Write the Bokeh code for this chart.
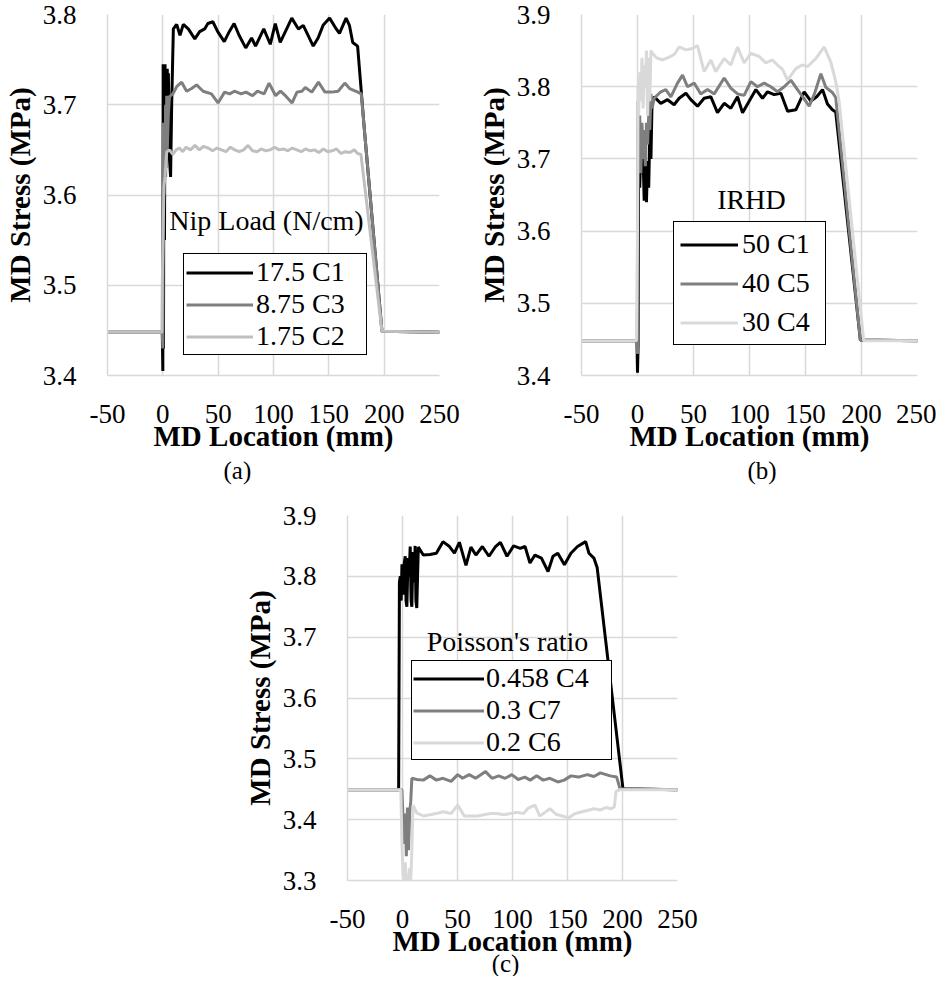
from bokeh.plotting import figure
from bokeh.models import (Range1d, FixedTicker, PrintfTickFormatter, Legend,
                          LegendItem, Label, Spacer, Title)
from bokeh.layouts import column, row
from bokeh.embed import file_html
from bokeh.resources import INLINE

FONT = "Liberation Serif"
X_TICKS = [-50, 0, 50, 100, 150, 200, 250]

# ---------------- panel (a): Nip Load (N/cm) ----------------
a_c1_x = [-50, -0.5, 0, 0.3, 0.6, 1.0, 1.5, 2.0, 2.5, 3.0, 3.5, 4.0, 4.5, 5.0, 6.0, 7.0, 8.0, 9.5, 12.5, 15.5,
          18.5, 23, 28.9, 33.3, 37.8, 40.7, 45.2, 49.6, 55.5, 60, 64.4, 68.9, 74.9, 80.2, 83.8, 91.2, 97.1,
          101.6, 106.1, 116.5, 122.5, 126.9, 135.9, 140.3, 144.8, 150.7, 156.7, 159.6, 165.6, 168.6, 171.6,
          176, 182, 198, 250]
a_c1_y = [3.448, 3.448, 3.405, 3.745, 3.43, 3.74, 3.55, 3.745, 3.62, 3.74, 3.66, 3.74, 3.68, 3.735, 3.64, 3.62,
          3.70, 3.784, 3.789, 3.777, 3.789, 3.784, 3.773, 3.781, 3.784, 3.790, 3.792, 3.781, 3.770, 3.781,
          3.790, 3.777, 3.763, 3.774, 3.765, 3.784, 3.767, 3.790, 3.769, 3.796, 3.784, 3.788, 3.765, 3.774,
          3.788, 3.796, 3.784, 3.779, 3.796, 3.788, 3.769, 3.765, 3.674, 3.449, 3.448]
a_c3_x = [-50, -0.5, 0, 0.5, 1.0, 1.5, 2.0, 2.5, 3.0, 3.5, 4.0, 5.0, 6.0, 9.0, 12.5, 17, 21.5, 26, 30.5, 36.4,
          43.9, 49.9, 55.8, 60.3, 64.7, 70.7, 75.1, 81.1, 85.5, 91.5, 96, 101.9, 106.3, 110.8, 116.8, 121.2,
          125.7, 128.7, 134.6, 140.6, 146.5, 152.5, 158.4, 164.4, 168.8, 172.5, 176.3, 179.3, 198, 250]
a_c3_y = [3.448, 3.448, 3.43, 3.68, 3.60, 3.68, 3.62, 3.70, 3.63, 3.71, 3.65, 3.69, 3.709, 3.712, 3.720, 3.725,
          3.715, 3.718, 3.722, 3.715, 3.712, 3.702, 3.714, 3.712, 3.715, 3.712, 3.714, 3.710, 3.715, 3.712,
          3.724, 3.710, 3.715, 3.710, 3.702, 3.714, 3.715, 3.719, 3.714, 3.725, 3.714, 3.714, 3.715, 3.724,
          3.718, 3.716, 3.714, 3.712, 3.449, 3.448]
a_c2_x = [-50, -0.8, -0.5, 1.0, 2.0, 3.0, 3.6, 6, 9, 12, 15, 18, 21, 25, 29, 33, 37, 41, 45, 49, 53, 57, 61, 65,
          69, 73, 77, 81, 85, 89, 93, 97, 101, 105, 109, 113, 117, 121, 125, 129, 133, 137, 141, 145, 149, 153,
          157, 161, 165, 169, 173, 176, 179, 198, 250]
a_c2_y = [3.448, 3.448, 3.50, 3.61, 3.62, 3.64, 3.648, 3.650, 3.645, 3.650, 3.652, 3.648, 3.653, 3.650, 3.655,
          3.650, 3.654, 3.652, 3.649, 3.652, 3.650, 3.648, 3.653, 3.650, 3.648, 3.650, 3.655, 3.649, 3.648,
          3.651, 3.649, 3.650, 3.653, 3.650, 3.651, 3.649, 3.652, 3.650, 3.648, 3.651, 3.649, 3.650, 3.647,
          3.651, 3.648, 3.649, 3.651, 3.646, 3.648, 3.647, 3.650, 3.646, 3.645, 3.449, 3.448]

# ---------------- panel (b): IRHD ----------------
b_c1_x = [-50, -0.5, 0, 0.5, 1.0, 2.0, 3.0, 4.0, 5.0, 6.0, 7.0, 8.0, 9.0, 10.0, 11.0, 12.0, 13.0, 14.9, 20.8,
          26.8, 32.7, 37.2, 43.2, 47.6, 53.6, 59.5, 65.5, 71.4, 77.4, 83.3, 89.3, 93.8, 101.2, 105.7, 111.6,
          116.1, 122, 128, 134, 141.4, 148.8, 154.8, 160, 165.2, 169.6, 174, 177, 199, 250]
b_c1_y = [3.448, 3.448, 3.404, 3.44, 3.70, 3.66, 3.72, 3.68, 3.70, 3.642, 3.70, 3.64, 3.697, 3.66, 3.74, 3.70,
          3.78, 3.786, 3.777, 3.782, 3.775, 3.784, 3.791, 3.782, 3.773, 3.784, 3.786, 3.764, 3.777, 3.770,
          3.786, 3.764, 3.784, 3.796, 3.784, 3.793, 3.789, 3.791, 3.766, 3.768, 3.793, 3.780, 3.786, 3.796,
          3.776, 3.768, 3.765, 3.449, 3.448]
b_c5_x = [-50, -0.5, 0, 0.5, 1.0, 2.0, 3.0, 4.0, 5.0, 6.0, 7.0, 8.0, 9.0, 10, 11, 12, 13, 14.9, 20.8, 25.3,
          29.8, 35.7, 40.2, 44.6, 50.6, 56.5, 62.5, 68.5, 77.4, 83.3, 89.3, 95.2, 101.2, 107.1, 113.1, 119,
          125, 131, 136.9, 144.3, 148, 153.3, 158, 163.7, 168.2, 174, 177, 199, 250]
b_c5_y = [3.448, 3.448, 3.43, 3.78, 3.70, 3.76, 3.68, 3.75, 3.70, 3.74, 3.69, 3.75, 3.72, 3.76, 3.74, 3.79,
          3.77, 3.784, 3.793, 3.796, 3.786, 3.805, 3.816, 3.800, 3.805, 3.790, 3.796, 3.790, 3.812, 3.798,
          3.790, 3.788, 3.807, 3.800, 3.805, 3.800, 3.793, 3.800, 3.809, 3.793, 3.785, 3.773, 3.790, 3.818,
          3.799, 3.792, 3.785, 3.449, 3.448]
b_c4_x = [-50, -1, 0, 0.5, 1, 2, 3, 4, 5, 6, 7, 8, 9, 10, 11, 12, 13.4, 17, 22.3, 28.3, 33, 37.2, 43.2, 49.1,
          53.6, 59.5, 65.5, 69.9, 77.4, 83.3, 89.3, 95.2, 101.2, 108.6, 114.6, 120.5, 125, 129.5, 134, 141.4,
          147, 152, 159.2, 166.7, 172.6, 177, 180, 202, 250]
b_c4_y = [3.448, 3.448, 3.60, 3.80, 3.76, 3.82, 3.78, 3.84, 3.77, 3.83, 3.80, 3.85, 3.76, 3.84, 3.78, 3.85,
          3.846, 3.84, 3.837, 3.841, 3.845, 3.855, 3.851, 3.853, 3.857, 3.821, 3.837, 3.821, 3.839, 3.830,
          3.855, 3.833, 3.846, 3.842, 3.833, 3.837, 3.830, 3.824, 3.809, 3.825, 3.830, 3.828, 3.839, 3.855,
          3.834, 3.807, 3.78, 3.448, 3.448]

# ---------------- panel (c): Poisson's ratio ----------------
c_c4_x = [-50, -3.5, -2.8, -2.0, -1.2, -0.5, 0.5, 1.5, 2.5, 3.2, 4.0, 5, 6, 7, 7.8, 8.5, 9.5, 10.5, 11.5, 12.2,
          13, 13.7, 14.4, 18.9, 24.9, 30.8, 36.8, 42.7, 47.2, 51.7, 57.7, 62.2, 66.7, 72.6, 78.6, 84.6, 89, 95,
          101, 107, 111.4, 115.9, 120.4, 126.3, 132.3, 136.8, 141.2, 147.2, 153.1, 159.1, 166.5, 169.5, 174,
          177, 200.4, 250]
c_c4_y = [3.449, 3.449, 3.79, 3.80, 3.76, 3.82, 3.77, 3.82, 3.833, 3.76, 3.75, 3.83, 3.80, 3.849, 3.76, 3.75,
          3.84, 3.79, 3.85, 3.76, 3.748, 3.80, 3.848, 3.835, 3.836, 3.838, 3.857, 3.849, 3.838, 3.856, 3.818,
          3.848, 3.835, 3.849, 3.833, 3.849, 3.856, 3.833, 3.850, 3.846, 3.849, 3.822, 3.835, 3.830, 3.808,
          3.833, 3.838, 3.819, 3.838, 3.849, 3.857, 3.838, 3.830, 3.814, 3.451, 3.449]
c_c7_x = [-50, -0.5, 0.5, 1.5, 2.5, 3.5, 4.5, 5.5, 6.5, 7.5, 8.5, 13, 18.9, 24.9, 30.8, 36.8, 44.2, 50.2, 54.6,
          60.6, 66.5, 75.5, 81.4, 87.4, 93.3, 99.3, 105.2, 111.2, 116.1, 122, 127.9, 134, 141.2, 147, 153.1,
          160, 168, 174, 179.9, 188.8, 194.7, 197.7, 250]
c_c7_y = [3.449, 3.449, 3.40, 3.36, 3.41, 3.34, 3.42, 3.35, 3.41, 3.43, 3.468, 3.466, 3.465, 3.472, 3.465,
          3.468, 3.463, 3.474, 3.468, 3.474, 3.468, 3.479, 3.468, 3.472, 3.468, 3.474, 3.466, 3.470, 3.465,
          3.472, 3.465, 3.468, 3.462, 3.465, 3.472, 3.470, 3.474, 3.471, 3.477, 3.472, 3.470, 3.451, 3.449]
c_c6_x = [-50, -1.5, -0.5, 0.5, 1.5, 2.5, 3.5, 4.5, 5.5, 6.5, 7.5, 8.5, 9.5, 13, 18.9, 24.9, 30.8, 36.8, 44.2,
          50.2, 56.1, 62, 68, 74, 80, 86, 92, 98, 104, 110, 114.4, 120.4, 124.8, 129.5, 134, 139.5, 145.2,
          151.2, 157, 163, 168, 174, 180, 185, 189.7, 192.6, 194, 197, 250]
c_c6_y = [3.449, 3.449, 3.36, 3.31, 3.30, 3.33, 3.30, 3.31, 3.30, 3.32, 3.30, 3.35, 3.424, 3.411, 3.406, 3.408,
          3.410, 3.413, 3.410, 3.424, 3.406, 3.406, 3.406, 3.408, 3.410, 3.410, 3.408, 3.410, 3.412, 3.410,
          3.419, 3.424, 3.406, 3.412, 3.418, 3.409, 3.406, 3.403, 3.410, 3.413, 3.415, 3.418, 3.416, 3.420,
          3.418, 3.421, 3.446, 3.449, 3.449]

A_LABELS = ["17.5 C1", "8.75 C3", "1.75 C2"]
B_LABELS = ["50 C1", "40 C5", "30 C4"]
C_LABELS = ["0.458 C4", "0.3 C7", "0.2 C6"]

BLACK, GRAY, LIGHT_A, LIGHT_B = "#000000", "#7f7f7f", "#bfbfbf", "#d9d9d9"


def make_panel(width, height, borders, y_range, y_ticks, series, labels, colors,
               leg, leg_title, caption):
    bl, br, bt, bb = borders
    p = figure(width=width, height=height, output_backend="svg", toolbar_location=None,
               x_range=Range1d(-50, 250), y_range=Range1d(*y_range),
               min_border_left=bl, min_border_right=br, min_border_top=bt,
               min_border_bottom=bb)
    p.outline_line_color = None
    p.xaxis.ticker = FixedTicker(ticks=X_TICKS)
    p.yaxis.ticker = FixedTicker(ticks=y_ticks)
    p.xaxis.formatter = PrintfTickFormatter(format="%d")
    p.yaxis.formatter = PrintfTickFormatter(format="%.1f")
    p.xaxis.axis_label = "MD Location (mm)"
    p.yaxis.axis_label = "MD Stress (MPa)"
    for ax in p.axis:
        ax.major_tick_line_color = None
        ax.minor_tick_line_color = None
        ax.axis_line_color = "#d9d9d9"
        ax.axis_line_width = 1.5
        ax.major_label_text_font = FONT
        ax.major_label_text_font_size = "27px"
        ax.major_label_text_color = "black"
        ax.axis_label_text_font = FONT
        ax.axis_label_text_font_style = "bold"
        ax.axis_label_text_font_size = "29px"
        ax.axis_label_text_color = "black"
    p.xaxis.major_label_standoff = 23
    p.yaxis.major_label_standoff = 25
    p.xaxis.axis_label_standoff = -6
    p.yaxis.axis_label_standoff = 4
    p.grid.grid_line_color = "#d9d9d9"
    p.grid.grid_line_width = 1.5

    rends = []
    for (xs, ys), c in zip(series, colors):
        rends.append(p.line(xs, ys, line_color=c, line_width=3))

    lx, ly, pad, spc, gw, stand, lw = leg
    legend = Legend(items=[LegendItem(label=l, renderers=[r]) for l, r in zip(labels, rends)],
                    location=(lx, ly), padding=pad, spacing=spc, margin=0,
                    glyph_width=gw, glyph_height=31, label_height=31, label_width=lw,
                    label_standoff=stand, label_text_font=FONT, label_text_font_size="28px",
                    label_text_color="black", border_line_color="black", border_line_width=1,
                    border_line_alpha=1, background_fill_color="white", background_fill_alpha=1)
    p.add_layout(legend)

    tx, ty, ttext = leg_title
    p.add_layout(Label(x=tx, y=ty, x_units="screen", y_units="screen", text=ttext,
                       text_font=FONT, text_font_size="28px", text_align="center",
                       text_baseline="middle", text_color="black"))
    kind, c1, c2, ctext = caption
    if kind == "title":
        p.add_layout(Title(text=ctext, align="left", offset=c1, standoff=c2,
                           text_font=FONT, text_font_size="25px", text_font_style="normal",
                           text_color="black"), "below")
    else:
        # caption placed from the right side panel (takes no vertical room)
        p.add_layout(Label(x=c1, y=c2, x_units="screen", y_units="screen", text=ctext,
                           text_font=FONT, text_font_size="25px", text_align="center",
                           text_baseline="middle", text_color="black"), "right")
    return p


pa = make_panel(462, 493, (102, 23, 14, 118), (3.4, 3.8), [3.4, 3.5, 3.6, 3.7, 3.8],
                [(a_c1_x, a_c1_y), (a_c3_x, a_c3_y), (a_c2_x, a_c2_y)], A_LABELS,
                [BLACK, GRAY, LIGHT_A],
                (76, 20, 2, 0, 67, 3, 108), (159, 155, "Nip Load (N/cm)"),
                ("title", 116, 0, "(a)"))
pb = make_panel(474, 493, (119, 19, 14, 118), (3.4, 3.9), [3.4, 3.5, 3.6, 3.7, 3.8, 3.9],
                [(b_c1_x, b_c1_y), (b_c5_x, b_c5_y), (b_c4_x, b_c4_y)], B_LABELS,
                [BLACK, GRAY, LIGHT_B],
                (92, 30, 6, 7, 58, 4, 77), (170, 176, "IRHD"),
                ("title", 166, 0, "(b)"))
pc = make_panel(477, 483, (101, 40, 22, 96), (3.3, 3.9), [3.3, 3.4, 3.5, 3.6, 3.7, 3.8, 3.9],
                [(c_c4_x, c_c4_y), (c_c7_x, c_c7_y), (c_c6_x, c_c6_y)], C_LABELS,
                [BLACK, GRAY, LIGHT_B],
                (64, 120, 1, 0, 71, 2, 124), (160, 239, "Poisson's ratio"),
                ("label", -172, -83, "(c)"))

layout = column(row(pa, pb), row(Spacer(width=240, height=10), pc))

with open("out.html", "w") as f:
    f.write(file_html(layout, INLINE))
